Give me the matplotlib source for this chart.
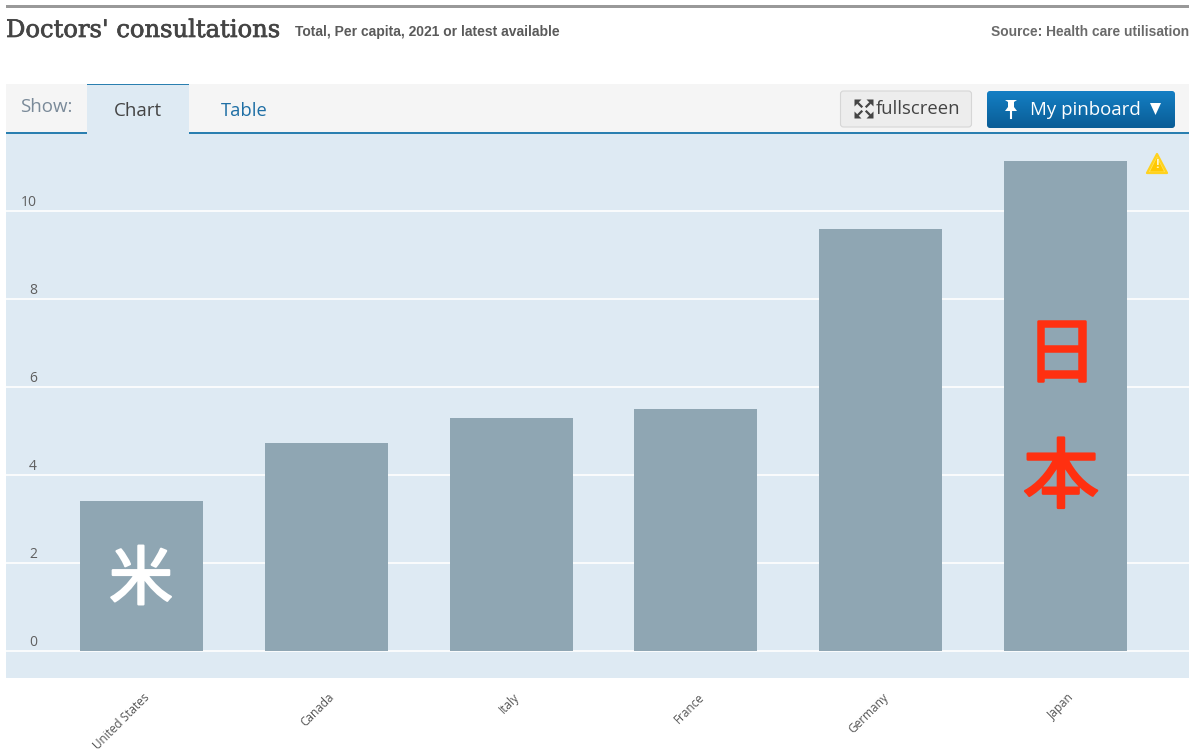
import matplotlib
matplotlib.use('Agg')
import matplotlib.pyplot as plt
import matplotlib.patheffects as pe
import matplotlib.transforms as mtrans
import numpy as np
from matplotlib.patches import Rectangle, FancyBboxPatch, Polygon

countries = ['United States', 'Canada', 'Italy', 'France', 'Germany', 'Japan']
consultations = [3.4, 4.73, 5.3, 5.5, 9.6, 11.14]
y_ticks = [0, 2, 4, 6, 8, 10]

W, H = 1200, 750
BG = '#deeaf3'
BAR = '#8fa6b3'
BLUE = '#2a7fb0'
CJK = ['Noto Sans CJK JP', 'DejaVu Sans']
UI = 'Open Sans'
NARROW = 'Liberation Sans'

fig = plt.figure(figsize=(12, 7.5), dpi=100, facecolor='white')

# chart area, pixel box
left, right, top, bottom = 6, 1189, 134, 678
ax = fig.add_axes([left / W, 1 - bottom / H, (right - left) / W, (bottom - top) / H])
ax.set_facecolor(BG)
ax.set_xlim((left - 141.5) / 184.8, (right - 141.5) / 184.8)
ax.set_ylim((651 - bottom) / 44, (651 - top) / 44)
ax.set_axisbelow(True)
ax.grid(axis='y', color='white', lw=1.2)
x = np.arange(len(countries))
ax.bar(x, consultations, width=0.665, color=BAR, zorder=2)
for s in ax.spines.values():
    s.set_visible(False)
ax.set_yticks(y_ticks)
ax.set_yticklabels([str(t) for t in y_ticks], fontsize=10, color='#5f5f5f', family=UI,
                   va='bottom')
ax.tick_params(axis='y', length=0, pad=-22.3)
nudge = mtrans.ScaledTranslation(0, 0.8 / 72, fig.dpi_scale_trans)
for lab in ax.get_yticklabels():
    lab.set_transform(lab.get_transform() + nudge)
ax.set_xticks(x)
ax.set_xticklabels(countries, rotation=45, ha='right', rotation_mode='anchor',
                   fontsize=8.5, color='#555555', family=UI)
ax.tick_params(axis='x', length=0, pad=9)
nudge_x = mtrans.ScaledTranslation(1.2 / 72, 0, fig.dpi_scale_trans)
for lab in ax.get_xticklabels():
    lab.set_transform(lab.get_transform() + nudge_x)

# everything around the chart: overlay in pixel coordinates
ov = fig.add_axes([0, 0, 1, 1], facecolor='none')
ov.set_xlim(0, W)
ov.set_ylim(H, 0)
ov.axis('off')

ov.add_patch(Rectangle((6, 5), 1183, 3, color='#999999', lw=0))
ov.text(6, 30.5, "Doctors' consultations", fontsize=17.45, color='#444444', va='center',
        family='DejaVu Serif', path_effects=[pe.withStroke(linewidth=0.5, foreground='#444444')])
ov.text(295, 32, 'Total, Per capita, 2021 or latest available', fontsize=10, color='#5a5a5a',
        va='center', weight='bold', family=NARROW)
ov.text(1189, 31.5, 'Source: Health care utilisation', fontsize=9.9, color='#6a6a6a', va='center',
        ha='right', weight='bold', family=NARROW)

# tab bar
ov.add_patch(Rectangle((6, 84), 1183, 48, color='#f5f5f5', lw=0))
ov.add_patch(Rectangle((6, 132), 1183, 1.6, color=BLUE, lw=0))
ov.add_patch(Rectangle((87, 84), 102, 50, color=BG, lw=0))
ov.add_patch(Rectangle((87, 84), 102, 1.4, color=BLUE, lw=0))
ov.text(20, 107, 'Show:', fontsize=13.5, color='#7a8a99', va='center', family=UI)
ov.text(138, 110.5, 'Chart', fontsize=13.5, color='#444444', va='center', ha='center', family=UI)
ov.text(244.5, 110.5, 'Table', fontsize=13.2, color='#1f6fa5', va='center', ha='center', family=UI)

# fullscreen button
ov.add_patch(FancyBboxPatch((840.5, 91), 131, 36, boxstyle='round,pad=0,rounding_size=3',
                            fc='#ededed', ec='#d6d6d6', lw=0.8))
for sx, sy in [(-1, -1), (1, -1), (-1, 1), (1, 1)]:
    cx, cy = 864 + sx * 5.5, 109 + sy * 5.5
    ov.add_patch(Polygon([(cx + sx * 4, cy + sy * 4), (cx - sx * 3, cy + sy * 4), (cx + sx * 4, cy - sy * 3)],
                         color='#444444', lw=0))
    ov.plot([cx, cx - sx * 3], [cy, cy - sy * 3], color='#444444', lw=1.6)
ov.text(876, 109.5, 'fullscreen', fontsize=13.3, color='#444444', va='center', family=UI)

# pinboard button with a vertical gradient
grad = np.linspace(0, 1, 64).reshape(-1, 1, 1)
c1, c2 = np.array([0x14, 0x7f, 0xc4]) / 255, np.array([0x0a, 0x5d, 0x96]) / 255
im = ov.imshow(c1 + (c2 - c1) * grad, extent=(987, 1175, 128, 91), aspect='auto', zorder=1)
im.set_clip_path(FancyBboxPatch((987, 91), 188, 37, boxstyle='round,pad=0,rounding_size=3',
                                transform=ov.transData))
ov.set_xlim(0, W)
ov.set_ylim(H, 0)
ov.add_patch(Polygon([(1005, 100), (1017, 100), (1014, 102), (1014, 107), (1017, 111), (1005, 111),
                      (1008, 107), (1008, 102)], color='white', lw=0, zorder=2))
ov.plot([1011, 1011], [111, 118], color='white', lw=1.5, zorder=2)
ov.text(1030, 110, 'My pinboard', fontsize=13.4, color='white', va='center', family=UI, zorder=2)
ov.add_patch(Polygon([(1150, 103), (1161, 103), (1155.5, 115)], color='white', lw=0, zorder=2))

# warning sign
ov.add_patch(Polygon([(1157, 154), (1167, 173), (1147, 173)], closed=True, fc='#ffe45c', ec='#ffd21f',
                     lw=1.6, joinstyle='round'))
ov.add_patch(Polygon([(1157, 157.5), (1164, 171.5), (1150, 171.5)], closed=True, fc='#ffc800', ec='none'))
ov.text(1157, 165, '!', fontsize=9, color='#fff6c8', ha='center', va='center', family=UI, weight='bold')

# hand-written marks on the screenshot
ov.text(141, 581, '米', fontsize=46, color='white', ha='center', va='center', family=CJK,
        path_effects=[pe.withStroke(linewidth=1.6, foreground='white', joinstyle='round')])
red = [pe.withStroke(linewidth=1.8, foreground='#ff3010', joinstyle='round')]
ov.text(1061, 356, '日', fontsize=52, color='#ff3010', ha='center', va='center', family=CJK, path_effects=red)
ov.text(1061, 480, '本', fontsize=55, color='#ff3010', ha='center', va='center', family=CJK, path_effects=red)

fig.savefig('out.png', dpi=100)
